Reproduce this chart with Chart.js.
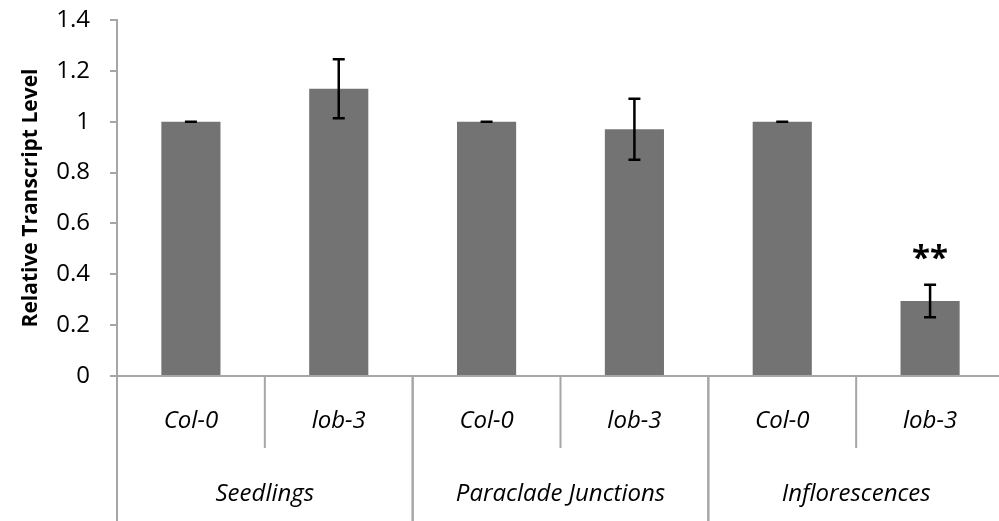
<!DOCTYPE html>
<html>
<head>
<meta charset="utf-8">
<script src="https://cdn.jsdelivr.net/npm/chart.js@4.4.1/dist/chart.umd.min.js"></script>
<style>
  html, body { margin: 0; padding: 0; background: #fff; overflow: hidden; }
  #wrap { width: 1010px; height: 521px; }
</style>
</head>
<body>
<div id="wrap"><canvas id="Canvas" width="1010" height="521"></canvas></div>
<script>
// niveis relativos de transcrito (media e erro padrao)
const grupos = ["Seedlings", "Paraclade Junctions", "Inflorescences"];
const genotipos = ["Col-0", "lob-3", "Col-0", "lob-3", "Col-0", "lob-3"];
const valores = [1.0, 1.13, 1.0, 0.97, 1.0, 0.295];
const erros = [0, 0.116, 0, 0.12, 0, 0.064];
const marcas = ["", "", "", "", "", "**"];
const ticksY = [0, 0.2, 0.4, 0.6, 0.8, 1, 1.2, 1.4];

const corEixo = "#a6a6a6";
const fonte = "'Open Sans', sans-serif";

// barras de erro + asteriscos
const errorBars = {
  id: "errorBars",
  afterDatasetsDraw(chart) {
    const ctx = chart.ctx;
    const x = chart.scales.x, y = chart.scales.y;
    ctx.save();
    ctx.strokeStyle = "#000";
    ctx.lineWidth = 2.5;
    valores.forEach((v, i) => {
      const px = x.getPixelForValue(i);
      const top = y.getPixelForValue(v + erros[i]);
      const bot = y.getPixelForValue(v - erros[i]);
      ctx.beginPath();
      ctx.moveTo(px, top); ctx.lineTo(px, bot);
      ctx.moveTo(px - 6, top); ctx.lineTo(px + 6, top);
      ctx.moveTo(px - 6, bot); ctx.lineTo(px + 6, bot);
      ctx.stroke();
      if (marcas[i]) {
        ctx.fillStyle = "#000";
        ctx.font = "bold 33px " + fonte;
        ctx.textAlign = "center";
        ctx.textBaseline = "middle";
        ctx.fillText(marcas[i], px, top - 25);
      }
    });
    ctx.restore();
  }
};

// eixo x em dois niveis (genotipo / tecido)
const eixoDuplo = {
  id: "eixoDuplo",
  afterDraw(chart) {
    const ctx = chart.ctx;
    const x = chart.scales.x;
    const base = chart.chartArea.bottom;
    const fundo = chart.height;
    const w = x.getPixelForValue(1) - x.getPixelForValue(0);
    ctx.save();
    ctx.strokeStyle = corEixo;
    ctx.lineWidth = 2;
    ctx.fillStyle = "#000";
    ctx.textAlign = "center";
    ctx.textBaseline = "middle";
    ctx.font = "italic 24px " + fonte;
    genotipos.forEach((g, i) => {
      ctx.fillText(g, x.getPixelForValue(i), base + 45);
    });
    grupos.forEach((g, k) => {
      const esq = x.getPixelForValue(2 * k) - w / 2;
      const meio = x.getPixelForValue(2 * k) + w / 2;
      const dir = x.getPixelForValue(2 * k + 1) + w / 2;
      ctx.beginPath();
      ctx.moveTo(esq, base); ctx.lineTo(esq, fundo);
      ctx.moveTo(meio, base); ctx.lineTo(meio, base + 72);
      ctx.moveTo(dir, base); ctx.lineTo(dir, fundo);
      ctx.stroke();
      ctx.fillText(g, (esq + dir) / 2, base + 118);
    });
    ctx.restore();
  }
};

let ctx = document.getElementById("Canvas").getContext("2d");

new Chart(ctx, {
  type: "bar",
  data: {
    labels: genotipos,
    datasets: [{
      data: valores,
      backgroundColor: "#737373",
      borderWidth: 0,
      barPercentage: 0.4,
      categoryPercentage: 1.0
    }]
  },
  options: {
    responsive: false,
    animation: false,
    layout: { padding: { left: 0, top: 20, right: 6, bottom: 0 } },
    plugins: { legend: { display: false }, tooltip: { enabled: false } },
    scales: {
      x: {
        grid: { display: false },
        border: { color: corEixo, width: 2 },
        ticks: { display: false },
        afterFit: (s) => { s.height = 145; }
      },
      y: {
        min: 0,
        max: 1.4,
        afterBuildTicks: (s) => { s.ticks = ticksY.map(v => ({ value: v })); },
        afterFit: (s) => { s.width = 117; s.paddingTop = 0; s.paddingBottom = 0; },
        grid: { drawOnChartArea: false, color: corEixo, lineWidth: 2, tickLength: 7 },
        border: { color: corEixo, width: 2 },
        ticks: {
          color: "#000",
          padding: 20,
          font: { family: fonte, size: 24 },
          callback: (v) => String(Math.round(v * 10) / 10)
        },
        title: {
          display: true,
          text: "Relative Transcript Level",
          color: "#000",
          font: { family: fonte, size: 21, weight: "bold" },
          padding: { top: 18, bottom: 0 }
        }
      }
    }
  },
  plugins: [errorBars, eixoDuplo]
});
</script>
</body>
</html>
